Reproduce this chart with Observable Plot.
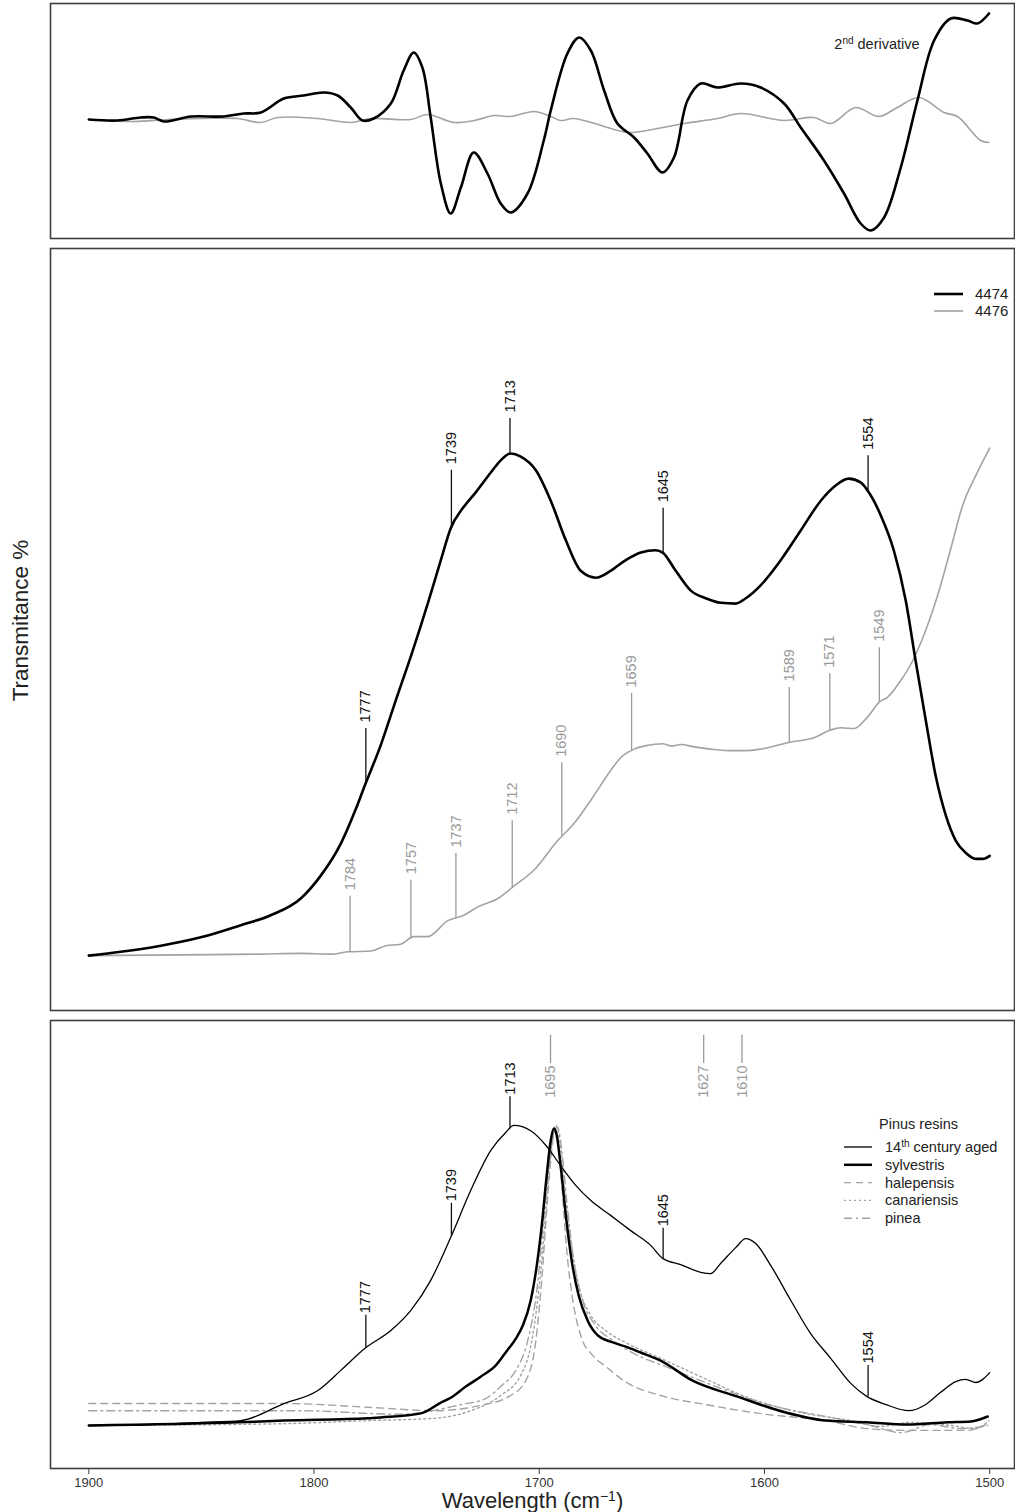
<!DOCTYPE html>
<html><head><meta charset="utf-8">
<script src="https://cdn.jsdelivr.net/npm/d3@7"></script>
<script src="https://cdn.jsdelivr.net/npm/@observablehq/plot@0.6"></script>
<style>
body{margin:0;background:#fff;}
#root{position:relative;width:1015px;height:1512px;overflow:hidden;background:#fff;font-family:"Liberation Sans",Arial,Helvetica,sans-serif;}
</style></head><body><div id="root"></div>
<script>
// ---------- Panel 1: 2nd derivative ----------
const derivBlackWn = [1900,1887.3,1876.9,1871.1,1866.7,1854.7,1840.1,1831.2,1823.6,1813.4,1804.6,1795.7,1789.5,1783.7,1778.5,1773.5,1765.9,1760.2,1755.7,1751.9,1748.2,1743.7,1739.3,1734.8,1729.1,1723,1717.1,1712.7,1705.2,1698,1694.9,1687.5,1682.3,1677.1,1671.2,1665.3,1657.9,1652,1645.3,1640.2,1634.2,1628.3,1620.9,1610.5,1601.7,1591.3,1583.9,1573.6,1564.7,1557.3,1552.8,1546.9,1539.5,1532.1,1524.7,1517.3,1509.9,1505.5,1500.3];
const derivBlackVal = [-0.01,-0.02,0.01,0.01,-0.03,0.02,0.02,0.05,0.06,0.20,0.23,0.26,0.23,0.11,-0.02,0.00,0.15,0.48,0.66,0.51,0.01,-0.65,-0.95,-0.69,-0.34,-0.55,-0.85,-0.94,-0.75,-0.22,0.08,0.65,0.81,0.68,0.28,-0.05,-0.19,-0.35,-0.54,-0.39,0.18,0.35,0.31,0.35,0.31,0.15,-0.09,-0.42,-0.75,-1.05,-1.12,-0.99,-0.49,0.18,0.78,1.00,0.98,0.95,1.05];
const derivGrayWn = [1900,1880,1865.1,1850.3,1834,1823.6,1816.2,1798.5,1783.7,1774.8,1757,1749.6,1737.8,1728.9,1720,1712.7,1702.3,1694.9,1690.5,1684.6,1660.8,1654.9,1635.7,1620.9,1610.5,1591.3,1578,1570.6,1559.5,1549.2,1541,1531.4,1520.3,1514.3,1504,1500.3];
const derivGrayVal = [-0.01,-0.03,-0.01,0.00,0.00,-0.04,0.01,0.00,-0.04,0.00,-0.01,0.04,-0.04,-0.02,0.03,0.02,0.07,0.02,-0.02,0.00,-0.14,-0.13,-0.05,0.00,0.05,-0.02,0.01,-0.05,0.11,0.02,0.11,0.21,0.06,0.02,-0.22,-0.24];

// ---------- Panel 2: Transmittance, samples 4474 / 4476 ----------
const s4474Wn = [1900,1885.8,1868,1850.3,1832.5,1819.2,1805.9,1797,1788.1,1781.5,1777.5,1770.4,1763.7,1756.2,1749.1,1743.7,1739.3,1734,1728.2,1721.5,1717.1,1712.7,1708.2,1701.5,1694.9,1688.2,1681.6,1674.9,1668.3,1661.6,1654.9,1648.3,1645.2,1639.4,1632.7,1626.1,1619.4,1612.8,1608.3,1601.7,1592.8,1583.9,1575,1568.4,1562.6,1557.3,1553.7,1548.4,1542.6,1537.3,1532.9,1528.4,1524,1519.5,1515.1,1510.7,1506.2,1503.1,1500];
const s4474Val = [7.2,7.7,8.5,9.6,11.2,12.5,14.7,17.7,21.9,26.4,29.5,34.8,40.7,47.2,53.8,59.1,63.3,65.9,68.0,70.6,72.2,73.1,72.7,70.9,66.9,61.7,57.7,56.8,57.7,59.1,60.1,60.4,60.1,57.7,55.1,54.1,53.5,53.4,54.1,55.8,59.1,63.0,66.9,68.9,69.8,69.3,68.0,65.0,60.4,53.8,45.9,38.1,30.8,25.6,22.3,20.7,19.9,19.9,20.3];
const s4476Wn = [1900,1859.2,1823.6,1805.9,1792.6,1784.6,1774.8,1768.1,1761.5,1755.7,1749.5,1740.6,1733.5,1727.3,1718.4,1711.8,1702.4,1691.8,1684.7,1677.1,1668.3,1663.8,1657.9,1651.9,1645.3,1640.9,1637.2,1631.3,1623.9,1616.4,1609.1,1601.7,1594.3,1588.8,1578,1570.6,1566.2,1560.2,1554.3,1548.9,1545.4,1539.5,1534.2,1528.4,1523.1,1517.3,1512,1506.2,1500];
const s4476Val = [7.2,7.3,7.4,7.5,7.4,7.7,7.8,8.5,8.7,9.7,9.7,11.8,12.5,13.6,14.7,16.2,18.4,22.3,24.5,27.6,31.5,33.2,34.3,34.8,35.0,34.7,34.9,34.6,34.3,34.1,34.1,34.3,34.8,35.2,35.8,36.8,37.1,37.0,38.5,40.5,41.1,43.3,45.9,49.9,54.5,60.6,66.3,70.2,73.8];
const ann2BlackWn = [1777,1739,1713,1645,1554];
const ann2BlackTop = [37.0,70.9,77.7,65.9,72.8];
const ann2GrayWn = [1784,1757,1737,1712,1690,1659,1589,1571,1549];
const ann2GrayTop = [15.0,17.1,20.6,24.9,32.5,41.6,42.4,44.2,47.6];

// ---------- Panel 3: Pinus resins ----------
const agedWn = [1900,1872.5,1850.3,1832.5,1813.4,1798.3,1788.1,1777.5,1765.9,1757,1748.2,1739.3,1730.4,1721.5,1714.9,1711.3,1703.8,1697,1690.5,1683.8,1677.1,1668.3,1659.4,1650.5,1645.2,1637.2,1628.3,1623.9,1619.4,1612.8,1608.3,1603.9,1597.2,1588.3,1579.5,1570.6,1561.7,1554.6,1546.2,1536,1528.4,1521.8,1515.1,1510.7,1506.2,1503.1,1500];
const agedVal = [9.6,9.8,10.3,10.7,14.5,17.4,21.9,26.8,30.8,35.3,42.0,51.6,62.1,71.0,75.0,76.6,75.4,72.1,67.6,63.2,59.8,56.5,53.1,49.8,46.9,45.5,43.8,43.5,45.8,49.3,51.3,50.2,45.3,37.5,30.1,24.6,19.0,16.1,14.3,12.9,14.3,17.0,19.4,19.9,19.2,19.9,21.4];
const sylvWn = [1900,1833.9,1813.4,1776.1,1770.4,1752.6,1743.7,1739.3,1732.6,1726,1719.3,1714.9,1710.4,1707.3,1703.8,1701.1,1698.9,1696.7,1694.9,1693.5,1692.2,1690.5,1688.2,1685.6,1682.5,1678.5,1674,1668.3,1661.6,1655,1646.1,1631.9,1612.3,1590.6,1572.8,1554.6,1536.8,1518.7,1508.4,1500.9];
const sylvVal = [9.6,10.3,10.7,11.2,11.4,12.3,14.7,15.8,18.3,20.5,23.0,25.9,29.0,31.9,37.5,45.3,54.2,65.4,73.2,75.9,74.3,67.6,56.5,46.4,38.6,33.0,29.7,28.3,27.2,25.9,24.1,19.6,16.1,12.5,10.7,10.3,9.8,10.3,10.5,11.6];
const halWn = [1900,1813.4,1773.5,1746.8,1726,1712.7,1706,1701.5,1698.9,1696.7,1694.9,1693.1,1691.8,1690,1687.8,1685.1,1681.6,1676.2,1670.5,1662.5,1644.7,1626.5,1599.4,1572.8,1554.6,1536.8,1509.8,1501.8];
const halVal = [14.5,14.5,13.6,12.9,14.1,16.3,19.6,28.6,42.0,57.6,68.8,75.4,73.2,63.2,48.7,37.5,29.7,25.2,22.8,19.6,16.1,14.3,12.1,10.7,8.9,8.5,8.5,9.8];
const canWn = [1900,1813.4,1776.1,1746.8,1730.4,1717.1,1708.2,1702.9,1699.3,1696.7,1694.5,1692.7,1690.9,1688.7,1686,1682.5,1677.1,1670.5,1661.6,1646.1,1628.3,1606.1,1583.9,1561.7,1548.4,1535.1,1517.3,1506.2,1500.4];
const canVal = [9.6,10.0,10.7,11.2,12.9,16.3,20.8,29.7,44.2,59.8,72.1,76.6,73.2,62.1,50.9,40.8,34.2,30.8,28.1,24.6,20.5,15.6,12.5,10.7,9.4,10.3,9.6,8.9,10.7];
const pinWn = [1900,1805.9,1761.5,1734.4,1723.8,1716.7,1710.4,1705.1,1701.1,1698,1695.3,1693.5,1691.8,1690,1687.8,1684.7,1680.7,1675,1667.4,1658.9,1641.6,1619.4,1597.2,1575,1552.8,1539.5,1526.2,1512.9,1500.9];
const pinVal = [12.9,12.9,12.1,14.3,15.6,18.5,21.9,28.6,39.7,55.4,68.8,75.0,76.1,71.0,59.8,46.4,37.5,31.9,28.6,25.9,22.3,17.9,14.1,11.8,9.6,8.0,9.8,8.9,9.6];
const ann3BlackWn = [1777,1739,1713,1645,1554];
const ann3BlackTop = [34.2,59.2,83.0,53.6,23.0];
const ann3GrayWn = [1695,1627,1610];
const ann3GrayTopVal = 96.7, ann3GrayBottomVal = 90.4;

const xTicks = [1900,1800,1700,1600,1500];

// ---------- helpers ----------
const FONT = '"Liberation Sans", Arial, Helvetica, sans-serif';
const XD = [1917, 1489];
const BLACK = "#000", GRAY = "#a3a3a3", GRAYTXT = "#9a9a9a", FRAME = "#3f3f3f";
const toRows = (wn, v) => wn.map((x, i) => ({x, y: v[i]}));
function interp(wn, v, x) {
  for (let i = 0; i < wn.length - 1; i++) {
    const a = wn[i], b = wn[i + 1];
    if ((x <= a && x >= b) || (x >= a && x <= b)) {
      const t = (x - a) / (b - a);
      return v[i] + t * (v[i + 1] - v[i]);
    }
  }
  return v[v.length - 1];
}
const annRows = (wns, tops, cwn, cval) => wns.map((x, i) => ({x, y1: interp(cwn, cval, x), y2: tops[i], label: String(x)}));
// rebuild a text element as base + superscript + rest (superscript shift in px)
function supText(textSel, base, sup, rest, supSize, shift) {
  textSel.text("");
  textSel.append("tspan").text(base);
  textSel.append("tspan").attr("dy", -shift).attr("font-size", supSize).text(sup);
  textSel.append("tspan").attr("dy", shift).text(rest);
}
function findText(svg, match) {
  return d3.select(svg).selectAll("text").filter(function () { return this.textContent === match; });
}

const root = document.getElementById("root");
function place(el, top) {
  el.style.position = "absolute"; el.style.left = "0px"; el.style.top = top + "px";
  root.appendChild(el);
}

// ---------- Panel 1 ----------
const p1 = Plot.plot({
  width: 1015, height: 241, marginLeft: 50, marginRight: 1, marginTop: 3, marginBottom: 3,
  x: {domain: XD, axis: null}, y: {domain: [-1.2, 1.15], axis: null},
  style: {fontFamily: FONT, background: "transparent"},
  marks: [
    Plot.line(toRows(derivGrayWn, derivGrayVal), {x: "x", y: "y", stroke: GRAY, strokeWidth: 1.6, curve: "catmull-rom"}),
    Plot.line(toRows(derivBlackWn, derivBlackVal), {x: "x", y: "y", stroke: BLACK, strokeWidth: 2.6, curve: "catmull-rom"}),
    Plot.text(["2nd derivative"], {x: 1569, y: 0.74, textAnchor: "start", fontSize: 14.5, fill: "#222"}),
    Plot.frame({stroke: FRAME, strokeWidth: 1.6})
  ]
});
place(p1, 0);
findText(p1, "2nd derivative").each(function () { supText(d3.select(this), "2", "nd", " derivative", 10, 5); });

// ---------- Panel 2 ----------
const a2b = annRows(ann2BlackWn, ann2BlackTop, s4474Wn, s4474Val);
const a2g = annRows(ann2GrayWn, ann2GrayTop, s4476Wn, s4476Val);
const p2 = Plot.plot({
  width: 1015, height: 768, marginLeft: 50, marginRight: 1, marginTop: 3, marginBottom: 3,
  x: {domain: XD, axis: null}, y: {domain: [0, 100], axis: null},
  style: {fontFamily: FONT, background: "transparent"},
  marks: [
    Plot.line(toRows(s4476Wn, s4476Val), {x: "x", y: "y", stroke: GRAY, strokeWidth: 1.6, curve: "monotone-x"}),
    Plot.line(toRows(s4474Wn, s4474Val), {x: "x", y: "y", stroke: BLACK, strokeWidth: 2.6, curve: "monotone-x"}),
    Plot.ruleX(a2b, {x: "x", y1: "y1", y2: "y2", stroke: "#111", strokeWidth: 1.3}),
    Plot.text(a2b, {x: "x", y: "y2", text: "label", rotate: -90, textAnchor: "start", dy: -6, fontSize: 14.5, fill: "#111"}),
    Plot.ruleX(a2g, {x: "x", y1: "y1", y2: "y2", stroke: GRAYTXT, strokeWidth: 1.3}),
    Plot.text(a2g, {x: "x", y: "y2", text: "label", rotate: -90, textAnchor: "start", dy: -6, fontSize: 14.5, fill: GRAYTXT}),
    Plot.text(["Transmitance %"], {frameAnchor: "left", textAnchor: "middle", lineAnchor: "middle", dx: -30, dy: -9, rotate: -90, fontSize: 22.5, fill: "#222"}),
    Plot.frame({stroke: FRAME, strokeWidth: 1.6})
  ]
});
place(p2, 245);

// ---------- Panel 3 ----------
const a3b = annRows(ann3BlackWn, ann3BlackTop, agedWn, agedVal);
const a3g = ann3GrayWn.map(x => ({x, y1: ann3GrayTopVal, y2: ann3GrayBottomVal, label: String(x)}));
const p3 = Plot.plot({
  width: 1015, height: 495, marginLeft: 50, marginRight: 1, marginTop: 3, marginBottom: 44,
  x: {domain: XD, axis: null}, y: {domain: [0, 100], axis: null},
  style: {fontFamily: FONT, background: "transparent"},
  marks: [
    Plot.axisX({ticks: xTicks, tickFormat: d => String(d), tickSize: 6, tickPadding: 3, fontSize: 13, label: null, stroke: FRAME, color: "#333"}),
    Plot.line(toRows(halWn, halVal), {x: "x", y: "y", stroke: GRAY, strokeWidth: 1.4, strokeDasharray: "7,5", curve: "monotone-x"}),
    Plot.line(toRows(canWn, canVal), {x: "x", y: "y", stroke: GRAY, strokeWidth: 1.4, strokeDasharray: "2,3", curve: "monotone-x"}),
    Plot.line(toRows(pinWn, pinVal), {x: "x", y: "y", stroke: GRAY, strokeWidth: 1.4, strokeDasharray: "8,4,2,4", curve: "monotone-x"}),
    Plot.line(toRows(sylvWn, sylvVal), {x: "x", y: "y", stroke: BLACK, strokeWidth: 2.5, curve: "monotone-x"}),
    Plot.line(toRows(agedWn, agedVal), {x: "x", y: "y", stroke: BLACK, strokeWidth: 1.3, curve: "monotone-x"}),
    Plot.ruleX(a3b, {x: "x", y1: "y1", y2: "y2", stroke: "#111", strokeWidth: 1.3}),
    Plot.text(a3b, {x: "x", y: "y2", text: "label", rotate: -90, textAnchor: "start", dy: -2, fontSize: 14.5, fill: "#111"}),
    Plot.ruleX(a3g, {x: "x", y1: "y1", y2: "y2", stroke: GRAYTXT, strokeWidth: 1.3}),
    Plot.text(a3g, {x: "x", y: "y2", text: "label", rotate: -90, textAnchor: "end", dy: 2, fontSize: 14.5, fill: GRAYTXT}),
    Plot.text(["Wavelength (cm-1)"], {frameAnchor: "bottom", textAnchor: "middle", lineAnchor: "middle", dy: 32, fontSize: 22, fill: "#222"}),
    Plot.frame({stroke: FRAME, strokeWidth: 1.6})
  ]
});
place(p3, 1017);
findText(p3, "Wavelength (cm-1)").each(function () { supText(d3.select(this), "Wavelength (cm", "\u22121", ")", 14, 7); });

// ---------- Legends (overlay) ----------
const ov = d3.create("svg").attr("width", 1015).attr("height", 1512)
  .style("position", "absolute").style("left", "0px").style("top", "0px")
  .style("pointer-events", "none").style("font-family", FONT);
const leg2 = [
  {label: "4474", stroke: BLACK, w: 2.6},
  {label: "4476", stroke: GRAY, w: 1.6}
];
leg2.forEach((d, i) => {
  const y = 294 + i * 17;
  ov.append("line").attr("x1", 934).attr("x2", 963).attr("y1", y).attr("y2", y)
    .attr("stroke", d.stroke).attr("stroke-width", d.w);
  ov.append("text").attr("x", 975).attr("y", y).attr("dy", "0.35em").attr("font-size", 15).attr("fill", "#222").text(d.label);
});
ov.append("text").attr("x", 879).attr("y", 1124).attr("dy", "0.35em").attr("font-size", 14.5).attr("fill", "#222").text("Pinus resins");
const leg3 = [
  {label: "14th century aged", stroke: BLACK, w: 1.3, dash: null},
  {label: "sylvestris", stroke: BLACK, w: 2.5, dash: null},
  {label: "halepensis", stroke: GRAY, w: 1.4, dash: "7,5"},
  {label: "canariensis", stroke: GRAY, w: 1.4, dash: "2,3"},
  {label: "pinea", stroke: GRAY, w: 1.4, dash: "8,4,2,4"}
];
leg3.forEach((d, i) => {
  const y = 1147 + i * 17.8;
  const ln = ov.append("line").attr("x1", 844).attr("x2", 872).attr("y1", y).attr("y2", y)
    .attr("stroke", d.stroke).attr("stroke-width", d.w);
  if (d.dash) ln.attr("stroke-dasharray", d.dash);
  const t = ov.append("text").attr("x", 885).attr("y", y + 5).attr("font-size", 14.5).attr("fill", "#222");
  if (d.label.startsWith("14th")) supText(t, "14", "th", " century aged", 10, 5);
  else t.text(d.label);
});
root.appendChild(ov.node());
</script></body></html>
